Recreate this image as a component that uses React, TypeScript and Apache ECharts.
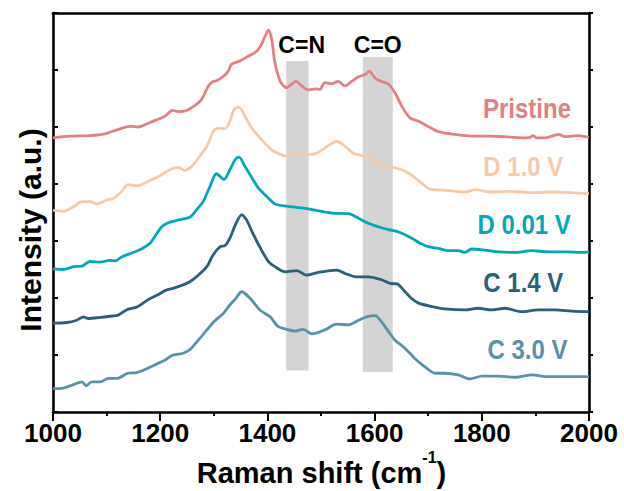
import React, { useEffect, useRef } from "react";
import * as echarts from "echarts";

// Raman spectra, stacked with vertical offsets (arbitrary intensity units)
const pristine: number[][] = [
  [1000, 4.81], [1032, 4.84], [1069, 4.85], [1097, 4.88], [1119, 4.95], [1144, 5.01], [1159, 5.0],
  [1181, 5.08], [1209, 5.19], [1223, 5.29], [1234, 5.27], [1249, 5.29], [1265, 5.38], [1277, 5.48],
  [1290, 5.72], [1299, 5.8], [1305, 5.81], [1318, 5.89], [1327, 5.98], [1333, 6.1], [1349, 6.16],
  [1364, 6.24], [1380, 6.33], [1389, 6.45], [1397, 6.62], [1402, 6.7], [1408, 6.54], [1414, 6.13],
  [1424, 5.8], [1436, 5.69], [1445, 5.75], [1453, 5.8], [1464, 5.72], [1476, 5.65], [1489, 5.67],
  [1498, 5.66], [1507, 5.78], [1520, 5.76], [1532, 5.8], [1545, 5.72], [1557, 5.8], [1570, 5.88],
  [1582, 5.92], [1590, 5.98], [1601, 5.86], [1613, 5.8], [1626, 5.75], [1638, 5.6], [1651, 5.36],
  [1666, 5.16], [1682, 5.1], [1700, 5.01], [1719, 4.92], [1750, 4.87], [1781, 4.84], [1812, 4.84],
  [1843, 4.83], [1874, 4.81], [1890, 4.82], [1896, 4.85], [1902, 4.81], [1918, 4.81], [1943, 4.87],
  [1955, 4.83], [1980, 4.85], [2000, 4.82],
];

const d10: number[][] = [
  [1000, 3.54], [1019, 3.52], [1038, 3.6], [1054, 3.69], [1069, 3.69], [1082, 3.65], [1100, 3.72],
  [1113, 3.75], [1128, 3.87], [1140, 3.99], [1156, 3.97], [1181, 4.06], [1200, 4.15], [1218, 4.25],
  [1234, 4.29], [1246, 4.24], [1259, 4.31], [1274, 4.49], [1287, 4.66], [1299, 4.92], [1308, 4.98],
  [1321, 4.97], [1330, 5.1], [1338, 5.31], [1347, 5.35], [1358, 5.19], [1371, 4.98], [1389, 4.78],
  [1408, 4.6], [1424, 4.52], [1436, 4.49], [1452, 4.56], [1467, 4.54], [1479, 4.52], [1492, 4.54],
  [1507, 4.63], [1520, 4.71], [1529, 4.75], [1545, 4.66], [1560, 4.54], [1576, 4.5], [1595, 4.43],
  [1613, 4.34], [1632, 4.3], [1651, 4.25], [1665, 4.18], [1675, 4.11], [1691, 3.99], [1703, 3.91],
  [1731, 3.89], [1769, 3.86], [1787, 3.9], [1818, 3.86], [1856, 3.87], [1893, 3.85], [1930, 3.86],
  [1968, 3.85], [2000, 3.83],
];

const d001: number[][] = [
  [1000, 2.51], [1019, 2.5], [1038, 2.55], [1054, 2.56], [1069, 2.64], [1088, 2.63], [1106, 2.66],
  [1116, 2.65], [1128, 2.72], [1147, 2.79], [1165, 2.86], [1181, 2.96], [1190, 3.08], [1203, 3.25],
  [1215, 3.32], [1234, 3.37], [1256, 3.42], [1268, 3.55], [1280, 3.69], [1293, 3.96], [1305, 4.18],
  [1319, 4.08], [1330, 4.25], [1340, 4.43], [1347, 4.47], [1358, 4.31], [1371, 4.11], [1383, 3.93],
  [1402, 3.75], [1414, 3.65], [1436, 3.61], [1464, 3.58], [1489, 3.54], [1520, 3.49], [1551, 3.48],
  [1570, 3.4], [1588, 3.31], [1607, 3.25], [1626, 3.2], [1644, 3.16], [1657, 3.11], [1669, 3.05],
  [1685, 2.96], [1700, 2.9], [1719, 2.87], [1738, 2.83], [1756, 2.83], [1769, 2.8], [1781, 2.86],
  [1806, 2.84], [1831, 2.81], [1862, 2.8], [1893, 2.83], [1924, 2.81], [1955, 2.81], [1986, 2.8],
  [2000, 2.81],
];

const c14: number[][] = [
  [1000, 1.56], [1026, 1.57], [1044, 1.61], [1057, 1.67], [1066, 1.64], [1088, 1.66], [1106, 1.68],
  [1122, 1.7], [1137, 1.79], [1156, 1.84], [1168, 1.91], [1181, 1.99], [1200, 2.08], [1209, 2.13],
  [1224, 2.17], [1243, 2.23], [1256, 2.29], [1271, 2.4], [1287, 2.55], [1299, 2.76], [1312, 2.9],
  [1321, 2.92], [1330, 3.05], [1340, 3.28], [1352, 3.46], [1361, 3.37], [1374, 3.11], [1389, 2.84],
  [1402, 2.64], [1414, 2.55], [1433, 2.46], [1455, 2.48], [1473, 2.4], [1495, 2.45], [1529, 2.49],
  [1545, 2.43], [1566, 2.37], [1588, 2.37], [1613, 2.32], [1632, 2.25], [1641, 2.25], [1654, 2.14],
  [1669, 1.99], [1682, 1.91], [1707, 1.85], [1731, 1.81], [1769, 1.79], [1793, 1.82], [1818, 1.79],
  [1843, 1.82], [1874, 1.76], [1905, 1.79], [1936, 1.79], [1968, 1.77], [2000, 1.76],
];

const c30: number[][] = [
  [1000, 0.41], [1019, 0.42], [1038, 0.48], [1054, 0.53], [1062, 0.46], [1072, 0.53], [1088, 0.53],
  [1103, 0.59], [1119, 0.59], [1140, 0.68], [1156, 0.69], [1175, 0.76], [1193, 0.84], [1209, 0.91],
  [1224, 1.0], [1243, 1.03], [1256, 1.1], [1271, 1.26], [1287, 1.44], [1302, 1.6], [1318, 1.73],
  [1330, 1.88], [1340, 1.98], [1352, 2.11], [1368, 1.99], [1386, 1.79], [1405, 1.67], [1420, 1.5],
  [1436, 1.45], [1452, 1.42], [1467, 1.45], [1483, 1.37], [1507, 1.44], [1529, 1.54], [1551, 1.53],
  [1570, 1.61], [1585, 1.67], [1601, 1.69], [1613, 1.58], [1626, 1.41], [1638, 1.26], [1654, 1.14],
  [1666, 1.03], [1675, 0.94], [1694, 0.79], [1713, 0.68], [1731, 0.68], [1756, 0.65], [1778, 0.58],
  [1800, 0.63], [1831, 0.63], [1862, 0.61], [1893, 0.65], [1924, 0.62], [1955, 0.62], [2000, 0.62],
];

// Highlighted vibrational bands: [xStart, xEnd, yBottom, yTop]
const bandCN = [1435, 1477, 0.73, 6.16];
const bandCO = [1578, 1634, 0.7, 6.23];

const seriesNames = ["Pristine", "D 1.0 V", "D 0.01 V", "C 1.4 V", "C 3.0 V"];
const seriesColors = ["#e28183", "#f5cba7", "#00a9b7", "#2a6177", "#5893a7"];
const seriesData = [pristine, d10, d001, c14, c30];

const xTicks = [1000, 1200, 1400, 1600, 1800, 2000];

const FONT = "Liberation Sans, Arial, sans-serif";

export default function App() {
  const ref = useRef<HTMLDivElement>(null);

  useEffect(() => {
    if (!ref.current) return;
    document.body.style.margin = "0";
    const chart = echarts.init(ref.current, undefined, { renderer: "svg" });

    const labelPos = [
      [527, 108.7],
      [523.3, 166.7],
      [524.2, 224.7],
      [523.3, 282.5],
      [527.5, 350],
    ];

    const lineSeries = seriesData.map((d, i) => ({
      name: seriesNames[i],
      type: "line" as const,
      data: d,
      showSymbol: false,
      symbol: "none",
      smooth: 0.3,
      z: 3,
      lineStyle: { color: seriesColors[i], width: 2.8 },
    }));

    const bandSeries = {
      type: "line" as const,
      data: [],
      z: 1,
      silent: true,
      markArea: {
        silent: true,
        itemStyle: { color: "#d4d4d4" },
        data: [
          [
            { xAxis: bandCN[0], yAxis: bandCN[2] },
            { xAxis: bandCN[1], yAxis: bandCN[3] },
          ],
          [
            { xAxis: bandCO[0], yAxis: bandCO[2] },
            { xAxis: bandCO[1], yAxis: bandCO[3] },
          ],
        ],
      },
    };

    chart.setOption({
      animation: false,
      backgroundColor: "#ffffff",
      grid: { left: 53, right: 35, top: 13, bottom: 79, containLabel: false },
      xAxis: [
        {
          type: "value",
          min: xTicks[0],
          max: xTicks[xTicks.length - 1],
          interval: 200,
          position: "bottom",
          axisLine: { show: true, lineStyle: { color: "#000", width: 2.6 } },
          axisTick: { show: true, inside: false, length: 9, lineStyle: { color: "#000", width: 2 } },
          minorTick: { show: true, splitNumber: 2, length: 4, lineStyle: { color: "#000", width: 2 } },
          axisLabel: {
            show: true,
            margin: 8,
            color: "#000",
            fontSize: 26,
            fontWeight: "bold",
            fontFamily: FONT,
            formatter: (v: number) => String(v),
          },
          splitLine: { show: false },
        },
        {
          type: "value",
          min: xTicks[0],
          max: xTicks[xTicks.length - 1],
          position: "top",
          axisLine: { show: true, onZero: false, lineStyle: { color: "#000", width: 2.6 } },
          axisTick: { show: false },
          axisLabel: { show: false },
          splitLine: { show: false },
        },
      ],
      yAxis: [
        {
          type: "value",
          min: 0,
          max: 7,
          interval: 1,
          position: "left",
          axisLine: { show: true, onZero: false, lineStyle: { color: "#000", width: 2.6 } },
          axisTick: { show: true, inside: true, length: 5, lineStyle: { color: "#000", width: 2 } },
          axisLabel: { show: false },
          splitLine: { show: false },
        },
        {
          type: "value",
          min: 0,
          max: 7,
          interval: 1,
          position: "right",
          axisLine: { show: true, onZero: false, lineStyle: { color: "#000", width: 2.6 } },
          axisTick: { show: true, inside: false, length: 4, lineStyle: { color: "#000", width: 2 } },
          axisLabel: { show: false },
          splitLine: { show: false },
        },
      ],
      series: [bandSeries, ...lineSeries],
      graphic: [
        ...seriesNames.map((name, i) => ({
          type: "text",
          x: labelPos[i][0],
          y: labelPos[i][1],
          scaleY: 1.12,
          z: 10,
          style: {
            text: name,
            fill: seriesColors[i],
            fontSize: 24,
            fontWeight: "bold",
            fontFamily: FONT,
            textAlign: "center",
            textVerticalAlign: "middle",
          },
        })),
        {
          type: "text",
          x: 301.7,
          y: 45,
          z: 10,
          style: {
            text: "C=N",
            fill: "#000",
            fontSize: 23,
            fontWeight: "bold",
            fontFamily: FONT,
            textAlign: "center",
            textVerticalAlign: "middle",
          },
        },
        {
          type: "text",
          x: 377.8,
          y: 44.5,
          z: 10,
          style: {
            text: "C=O",
            fill: "#000",
            fontSize: 23,
            fontWeight: "bold",
            fontFamily: FONT,
            textAlign: "center",
            textVerticalAlign: "middle",
          },
        },
        {
          type: "text",
          x: 30,
          y: 230,
          rotation: Math.PI / 2,
          z: 10,
          style: {
            text: "Intensity (a.u.)",
            fill: "#000",
            fontSize: 30,
            fontWeight: "bold",
            fontFamily: FONT,
            textAlign: "center",
            textVerticalAlign: "middle",
          },
        },
        {
          type: "text",
          x: 321.5,
          y: 473,
          z: 10,
          style: {
            text: "{a|Raman shift (cm}{s|-1}{a|)}",
            textAlign: "center",
            textVerticalAlign: "middle",
            rich: {
              a: {
                fontSize: 29,
                fontWeight: "bold",
                fontFamily: FONT,
                fill: "#000",
                lineHeight: 48,
                verticalAlign: "middle",
              },
              s: {
                fontSize: 16,
                fontWeight: "bold",
                fontFamily: FONT,
                fill: "#000",
                lineHeight: 16,
                verticalAlign: "top",
              },
            },
          },
        },
      ],
    });

    return () => chart.dispose();
  }, []);

  return <div ref={ref} style={{ width: 624, height: 491 }} />;
}
